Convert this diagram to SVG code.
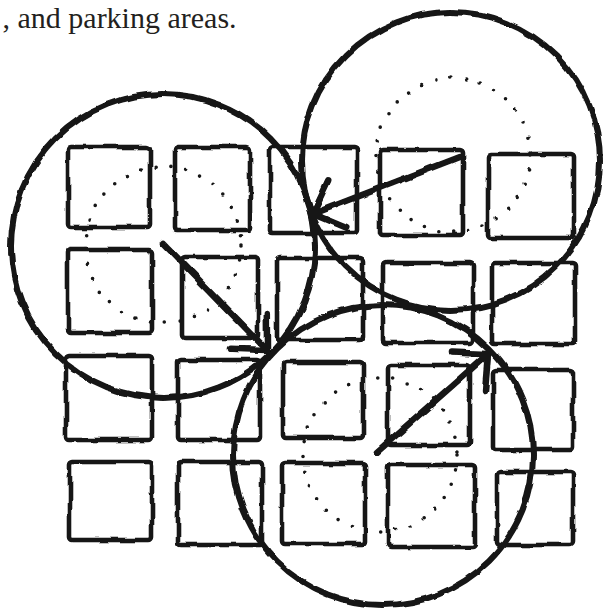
<svg xmlns="http://www.w3.org/2000/svg" width="604" height="610" viewBox="0 0 604 610">
  <style>
    .lot { fill: none; stroke: #141414; stroke-width: 4.6; stroke-linejoin: round; }
    .zone { fill: none; stroke: #141414; stroke-width: 6; }
    .dots { fill: none; stroke: #141414; stroke-width: 3.6; stroke-linecap: round; stroke-dasharray: 0 15; }
    .arrow { fill: none; stroke: #141414; stroke-width: 6.5; stroke-linecap: round; stroke-linejoin: round; }
    .caption { font-family: "Liberation Serif", "Times New Roman", serif; font-size: 30px; fill: #231f20; }
  </style>
  <defs>
    <filter id="rough" filterUnits="userSpaceOnUse" x="0" y="0" width="604" height="610">
      <feTurbulence type="fractalNoise" baseFrequency="0.05" numOctaves="2" seed="7" result="n"/>
      <feDisplacementMap in="SourceGraphic" in2="n" scale="4.5" xChannelSelector="R" yChannelSelector="G"/>
    </filter>
    <marker id="head" markerUnits="userSpaceOnUse" markerWidth="60" markerHeight="60" refX="0" refY="0" orient="auto" style="overflow:visible">
      <path d="M-26 -25 L0 0 L-26 25" fill="none" stroke="#141414" stroke-width="6.5" stroke-linecap="round" stroke-linejoin="round"/>
    </marker>
  </defs>
  <rect x="0" y="0" width="604" height="610" fill="#ffffff"/>
  <text class="caption" x="2.5" y="28">, and parking areas.</text>

  <g id="drawing" filter="url(#rough)">
    <g id="lots">
      <rect id="lot-r1c1" class="lot" x="68" y="147" width="82" height="80" rx="3"/>
      <rect id="lot-r1c2" class="lot" x="175" y="147" width="75" height="83" rx="3"/>
      <rect id="lot-r1c3" class="lot" x="270" y="147" width="87" height="86" rx="3"/>
      <rect id="lot-r1c4" class="lot" x="380" y="150" width="83" height="85" rx="3"/>
      <rect id="lot-r1c5" class="lot" x="488" y="154" width="86" height="84" rx="3"/>

      <rect id="lot-r2c1" class="lot" x="68" y="250" width="84" height="83" rx="3"/>
      <rect id="lot-r2c2" class="lot" x="182" y="257" width="76" height="81" rx="3"/>
      <rect id="lot-r2c3" class="lot" x="277" y="258" width="86" height="82" rx="3"/>
      <rect id="lot-r2c4" class="lot" x="383" y="263" width="90" height="80" rx="3"/>
      <rect id="lot-r2c5" class="lot" x="492" y="263" width="83" height="81" rx="3"/>

      <rect id="lot-r3c1" class="lot" x="66" y="356" width="86" height="84" rx="3"/>
      <rect id="lot-r3c2" class="lot" x="178" y="360" width="82" height="80" rx="3"/>
      <rect id="lot-r3c3" class="lot" x="283" y="362" width="80" height="76" rx="3"/>
      <rect id="lot-r3c4" class="lot" x="388" y="365" width="82" height="80" rx="3"/>
      <rect id="lot-r3c5" class="lot" x="493" y="370" width="80" height="80" rx="3"/>

      <rect id="lot-r4c1" class="lot" x="70" y="462" width="82" height="78" rx="3"/>
      <rect id="lot-r4c2" class="lot" x="178" y="462" width="84" height="83" rx="3"/>
      <rect id="lot-r4c3" class="lot" x="282" y="463" width="83" height="81" rx="3"/>
      <rect id="lot-r4c4" class="lot" x="388" y="465" width="87" height="82" rx="3"/>
      <rect id="lot-r4c5" class="lot" x="497" y="472" width="76" height="73" rx="3"/>
    </g>

    <g id="inner-rings">
      <circle id="ring-a" class="dots" cx="163" cy="245" r="78"/>
      <circle id="ring-b" class="dots" cx="453" cy="155" r="77"/>
      <circle id="ring-c" class="dots" cx="380" cy="455" r="77"/>
    </g>

    <g id="zones">
      <circle id="zone-a" class="zone" cx="163" cy="246" r="152"/>
      <circle id="zone-b" class="zone" cx="451" cy="161" r="149"/>
      <circle id="zone-c" class="zone" cx="383" cy="455" r="150"/>
    </g>

    <g id="connectors">
      <path id="arrow-a" class="arrow" d="M163 243 L267 350" marker-end="url(#head)"/>
      <path id="arrow-b" class="arrow" d="M460 157 L313 214" marker-end="url(#head)"/>
      <path id="arrow-c" class="arrow" d="M377 452 L488 354" marker-end="url(#head)"/>
    </g>
  </g>
</svg>
